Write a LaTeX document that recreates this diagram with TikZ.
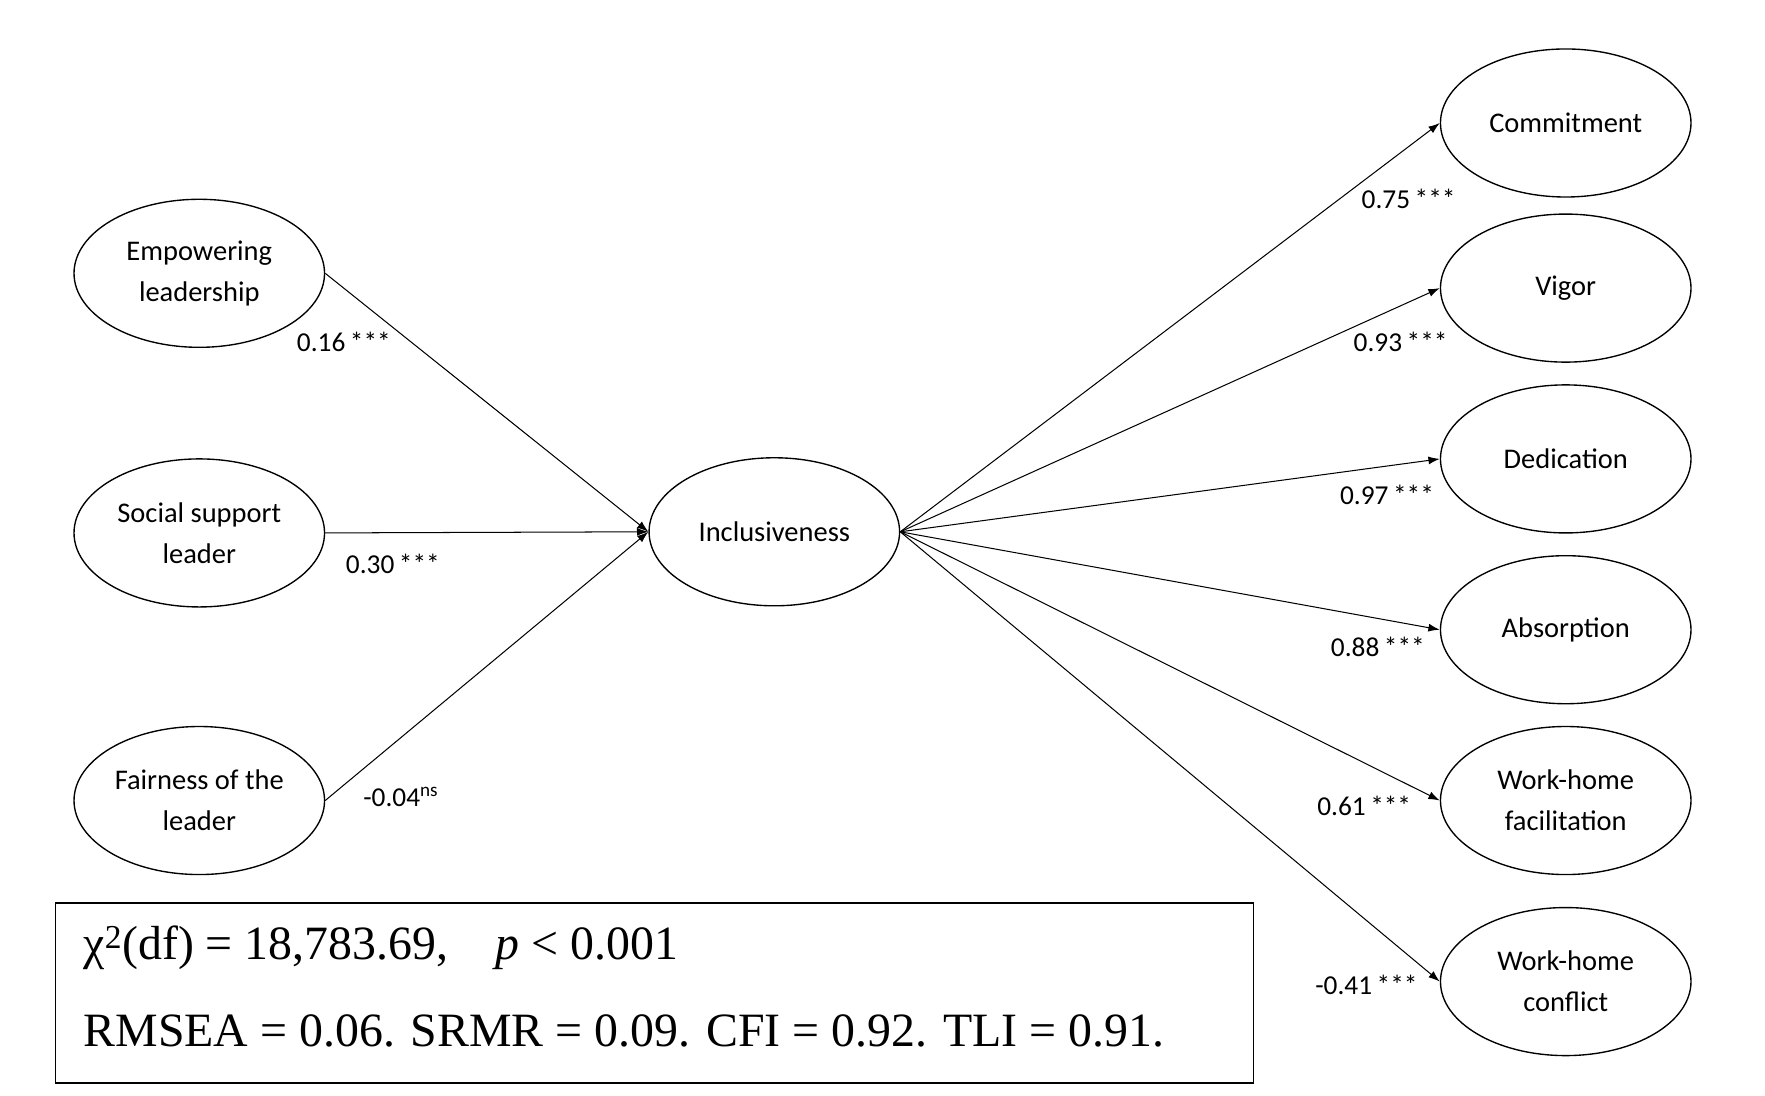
\documentclass[tikz,border=0pt]{standalone}
\usepackage{fontspec}
\setmainfont{Carlito}
\newfontfamily\boxserif{Liberation Serif}
\usetikzlibrary{shapes.geometric,arrows.meta}
\begin{document}
\begin{tikzpicture}[x=1pt,y=-1pt,
  lat/.style={ellipse,draw,line width=1.2pt,minimum width=220pt,minimum height=130pt,inner sep=0pt,align=center,font=\fontsize{25}{36}\selectfont},
  path/.style={line width=0.9pt,-{Latex[length=10pt,width=7pt]}},
  coef/.style={font=\fontsize{24}{28}\selectfont}]
\useasboundingbox (0,0) rectangle (1550,962);
\node[lat] (emp) at (175,240) {Empowering\\leadership};
\node[lat] (soc) at (175,468) {Social support\\leader};
\node[lat] (fai) at (175,703) {Fairness of the\\leader};
\node[lat] (inc) at (680,467) {Inclusiveness};
\node[lat] (com) at (1375,108) {Commitment};
\node[lat] (vig) at (1375,253) {Vigor};
\node[lat] (ded) at (1375,403) {Dedication};
\node[lat] (abs) at (1375,553) {Absorption};
\node[lat] (whf) at (1375,703) {Work-home\\facilitation};
\node[lat] (whc) at (1375,862) {Work-home\\conflict};
\draw[path] (emp.east) -- (inc.west);
\draw[path] (soc.east) -- (inc.west);
\draw[path] (fai.east) -- (inc.west);
\foreach \t in {com,vig,ded,abs,whf,whc} \draw[path] (inc.east) -- (\t.west);
\node[coef] (l1) at (302,300) {0.16\,***};
\node[coef] (l2) at (345,495) {0.30\,***};
\node[coef] (l3) at (352,700) {-0.04\textsuperscript{ns}};
\node[coef] (r1) at (1237,175) {0.75\,***};
\node[coef] (r2) at (1230,300) {0.93\,***};
\node[coef] (r3) at (1218,435) {0.97\,***};
\node[coef] (r4) at (1210,568) {0.88\,***};
\node[coef] (r5) at (1198,708) {0.61\,***};
\node[coef] (r6) at (1200,865) {-0.41\,***};
\node[draw,line width=1.5pt,minimum width=1052pt,minimum height=158pt,anchor=north west] (fit) at (48,792) {};
\node[anchor=west,font=\boxserif\fontsize{42}{48}\selectfont] (t1) at (70,832) {χ\textsuperscript{2}(df) = 18,783.69,\quad \textit{p} < 0.001};
\node[anchor=west,font=\boxserif\fontsize{42}{48}\selectfont] (t2) at (70,905) {RMSEA = 0.06. SRMR = 0.09. CFI = 0.92. TLI = 0.91.};
\end{tikzpicture}
\end{document}
